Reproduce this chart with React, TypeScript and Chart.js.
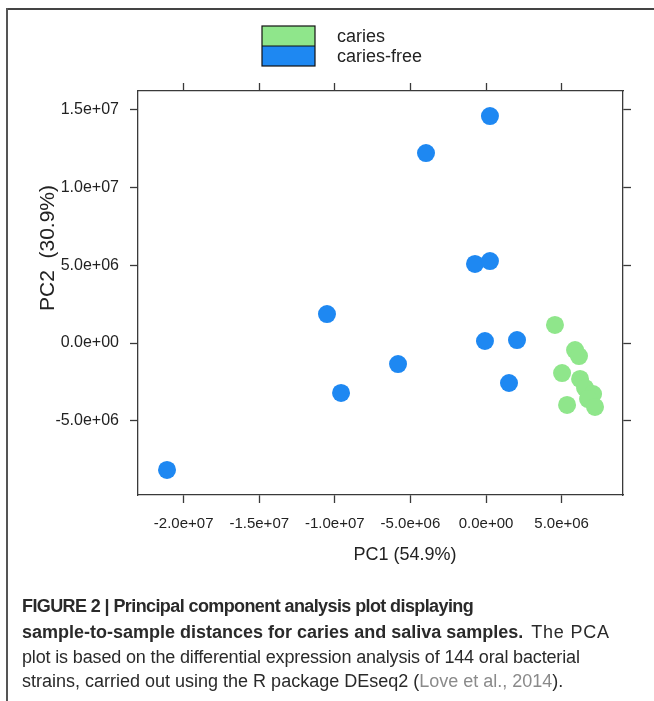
import React, { useEffect, useRef } from "react";
import { Chart, registerables } from "chart.js";

Chart.register(...registerables);

// ---- data ----
const seriesNames = ["caries", "caries-free"];
const seriesColors = ["#8fe68b", "#1e88f2"];

const cariesPC1 = [4.56e6, 5.89e6, 6.15e6, 5.03e6, 6.22e6, 6.55e6, 7.08e6, 6.75e6, 7.21e6, 5.36e6];
const cariesPC2 = [1.16e6, -0.45e6, -0.84e6, -1.93e6, -2.31e6, -2.89e6, -3.28e6, -3.6e6, -4.11e6, -3.98e6];

const freePC1 = [-21.1e6, -10.52e6, -9.59e6, -5.82e6, -3.97e6, 0.26e6, -0.73e6, 0.26e6, -0.07e6, 2.05e6, 1.52e6];
const freePC2 = [-8.16e6, 1.86e6, -3.21e6, -1.35e6, 12.21e6, 14.59e6, 5.08e6, 5.27e6, 0.13e6, 0.19e6, -2.57e6];

const xTickValues = [-2e7, -1.5e7, -1e7, -5e6, 0, 5e6];
const xTickLabels = ["-2.0e+07", "-1.5e+07", "-1.0e+07", "-5.0e+06", "0.0e+00", "5.0e+06"];
const yTickValues = [-5e6, 0, 5e6, 1e7, 1.5e7];
const yTickLabels = ["-5.0e+06", "0.0e+00", "5.0e+06", "1.0e+07", "1.5e+07"];

const xRange = [-2.302e7, 9.06e6];
const yRange = [-9.77e6, 16.2e6];

const xTitle = "PC1 (54.9%)";
const yTitle = "PC2  (30.9%)";

const W = 654;
const H = 701;
const AXIS = "#3a3a3a";
const TEXT = "#222222";
const FONT = "'Liberation Sans', Arial, sans-serif";

function zip(xs: number[], ys: number[]) {
  return xs.map((x, i) => ({ x, y: ys[i] }));
}

function labelFor(values: number[], labels: string[]) {
  return (v: any) => {
    const i = values.indexOf(Number(v));
    return i >= 0 ? labels[i] : "";
  };
}

const decorPlugin = {
  id: "decor",
  afterDraw(chart: any) {
    const ctx = chart.ctx as CanvasRenderingContext2D;
    ctx.save();
    // legend
    const bx = 262, by = 26, bw = 53, bh = 20;
    seriesNames.forEach((name, i) => {
      ctx.fillStyle = seriesColors[i];
      ctx.fillRect(bx, by + i * bh, bw, bh);
    });
    ctx.strokeStyle = "#111";
    ctx.lineWidth = 1.2;
    ctx.strokeRect(bx, by, bw, bh * 2);
    ctx.beginPath();
    ctx.moveTo(bx, by + bh);
    ctx.lineTo(bx + bw, by + bh);
    ctx.stroke();
    ctx.fillStyle = TEXT;
    ctx.font = `18px ${FONT}`;
    ctx.textAlign = "left";
    ctx.textBaseline = "middle";
    seriesNames.forEach((name, i) => {
      ctx.fillText(name, 337, by + bh / 2 + 1.5 + i * bh);
    });
    // x title
    ctx.font = `18px ${FONT}`;
    ctx.textAlign = "center";
    ctx.fillText(xTitle, 405, 555);
    // y title
    ctx.translate(48, 248);
    ctx.rotate(-Math.PI / 2);
    ctx.font = `21px ${FONT}`;
    ctx.fillText(yTitle, 0, 0);
    ctx.restore();
  },
};

function App() {
  const ref = useRef<HTMLCanvasElement | null>(null);

  useEffect(() => {
    if (!ref.current) return;
    const gridCommon = {
      drawOnChartArea: false,
      drawTicks: true,
      tickLength: 8,
      tickColor: AXIS,
      tickWidth: 1.3,
      color: AXIS,
    };
    const borderCommon = { display: true, color: AXIS, width: 1.3 };
    const chart = new Chart(ref.current, {
      type: "scatter",
      data: {
        datasets: [
          {
            label: seriesNames[1],
            data: zip(freePC1, freePC2),
            backgroundColor: seriesColors[1],
            borderWidth: 0,
            pointRadius: 9,
            pointHoverRadius: 9,
          },
          {
            label: seriesNames[0],
            data: zip(cariesPC1, cariesPC2),
            backgroundColor: seriesColors[0],
            borderWidth: 0,
            pointRadius: 9,
            pointHoverRadius: 9,
          },
        ],
      },
      options: {
        animation: false,
        responsive: false,
        devicePixelRatio: 1,
        events: [],
        layout: { padding: { top: 83, right: 23, left: 0, bottom: 0 } },
        plugins: { legend: { display: false }, tooltip: { enabled: false } },
        scales: {
          x: {
            type: "linear",
            position: "bottom",
            min: xRange[0],
            max: xRange[1],
            afterBuildTicks: (s: any) => {
              s.ticks = xTickValues.map((v) => ({ value: v }));
            },
            afterFit: (s: any) => {
              s.height = 206;
            },
            ticks: {
              callback: labelFor(xTickValues, xTickLabels),
              font: { size: 15, family: FONT },
              color: TEXT,
              padding: 12,
              maxRotation: 0,
              autoSkip: false,
            },
            grid: gridCommon,
            border: borderCommon,
          },
          x2: {
            type: "linear",
            position: "top",
            min: xRange[0],
            max: xRange[1],
            afterBuildTicks: (s: any) => {
              s.ticks = xTickValues.map((v) => ({ value: v }));
            },
            afterFit: (s: any) => {
              s.height = 8;
            },
            ticks: { display: false },
            grid: gridCommon,
            border: borderCommon,
          },
          y: {
            type: "linear",
            position: "left",
            min: yRange[0],
            max: yRange[1],
            afterBuildTicks: (s: any) => {
              s.ticks = yTickValues.map((v) => ({ value: v }));
            },
            afterFit: (s: any) => {
              s.width = 138;
            },
            ticks: {
              callback: labelFor(yTickValues, yTickLabels),
              font: { size: 16, family: FONT },
              color: TEXT,
              padding: 11,
              autoSkip: false,
            },
            grid: gridCommon,
            border: borderCommon,
          },
          y2: {
            type: "linear",
            position: "right",
            min: yRange[0],
            max: yRange[1],
            afterBuildTicks: (s: any) => {
              s.ticks = yTickValues.map((v) => ({ value: v }));
            },
            afterFit: (s: any) => {
              s.width = 8;
            },
            ticks: { display: false },
            grid: gridCommon,
            border: borderCommon,
          },
        },
      } as any,
      plugins: [decorPlugin],
    });
    return () => chart.destroy();
  }, []);

  const capFont = "'Liberation Sans', Arial, sans-serif";
  const lineStyle: React.CSSProperties = {
    position: "absolute",
    left: 22,
    whiteSpace: "nowrap",
    fontFamily: capFont,
    fontSize: 18,
    lineHeight: "20px",
    color: "#2a2a2a",
  };

  return (
    <div style={{ position: "absolute", left: 0, top: 0, width: W, height: H, background: "#fff", overflow: "hidden" }}>
      <canvas ref={ref} width={W} height={H} style={{ position: "absolute", left: 0, top: 0, width: W, height: H }} />
      <div style={{ position: "absolute", left: 6, top: 8, width: W - 6, height: 0, borderTop: "2px solid #444" }} />
      <div style={{ position: "absolute", left: 6, top: 8, width: 0, height: H - 8, borderLeft: "2px solid #555" }} />
      <div style={{ ...lineStyle, top: 596, fontWeight: "bold", letterSpacing: "-0.6px" }}>
        FIGURE 2 | Principal component analysis plot displaying
      </div>
      <div style={{ ...lineStyle, top: 622 }}>
        <b>sample-to-sample distances for caries and saliva samples.</b>
        <span style={{ marginLeft: 8, letterSpacing: "0.8px" }}>The PCA</span>
      </div>
      <div style={{ ...lineStyle, top: 647, letterSpacing: "-0.15px" }}>
        plot is based on the differential expression analysis of 144 oral bacterial
      </div>
      <div style={{ ...lineStyle, top: 671 }}>
        strains, carried out using the R package DEseq2 (<span style={{ color: "#8a8a8a" }}>Love et al., 2014</span>).
      </div>
    </div>
  );
}

export default App;
